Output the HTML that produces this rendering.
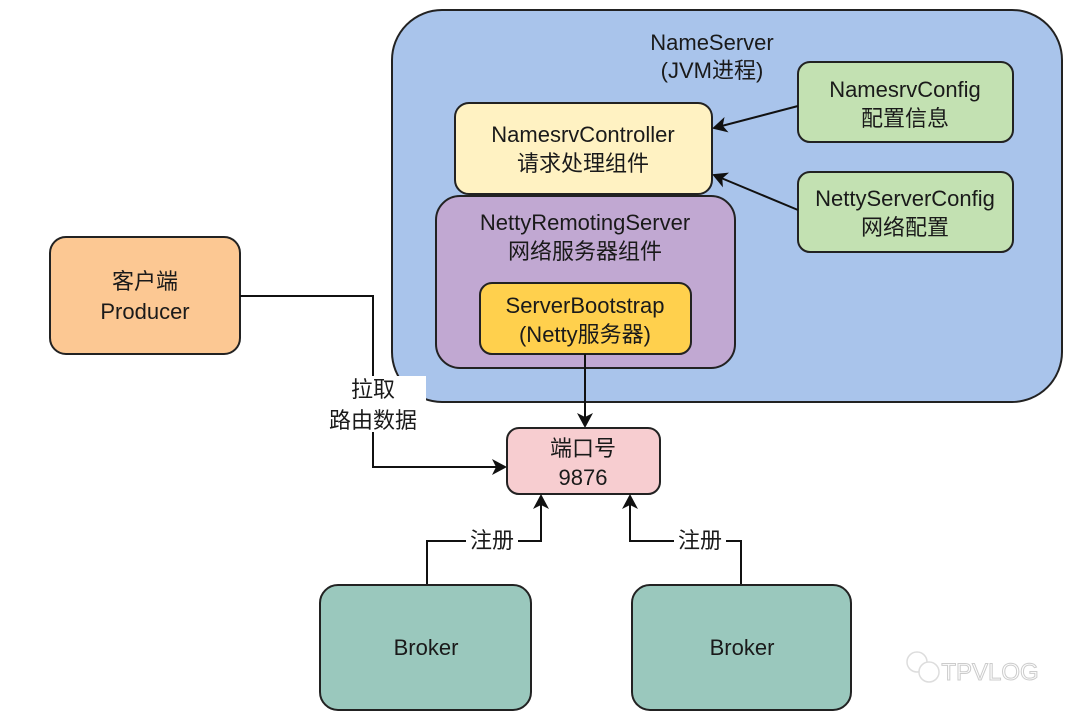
<!DOCTYPE html>
<html><head><meta charset="utf-8"><style>
html,body{margin:0;padding:0;background:#fff;}
svg{display:block}
text{font-family:"Liberation Sans","Noto Sans CJK SC",sans-serif;font-size:22px;fill:#1a1a1a;text-anchor:middle}
</style></head><body>
<svg width="1080" height="715" viewBox="0 0 1080 715" xmlns="http://www.w3.org/2000/svg">
<defs><marker id="a" markerWidth="16" markerHeight="16" refX="13" refY="8" orient="auto" markerUnits="userSpaceOnUse"><path d="M0,0 L15,8 L0,16 L4,8 Z" fill="#111"/></marker></defs>
<rect x="392" y="10" width="670" height="392" rx="50" fill="#a9c4eb" stroke="#222" stroke-width="2"/>
<text x="712" y="50">NameServer</text><text x="712" y="78">(JVM进程)</text>
<rect x="455" y="103" width="257" height="91" rx="14" fill="#fff2c2" stroke="#222" stroke-width="2"/>
<text x="583" y="142">NamesrvController</text><text x="583" y="171">请求处理组件</text>
<rect x="436" y="196" width="299" height="172" rx="24" fill="#c1a8d2" stroke="#222" stroke-width="2"/>
<text x="585" y="230">NettyRemotingServer</text><text x="585" y="259">网络服务器组件</text>
<rect x="480" y="283" width="211" height="71" rx="12" fill="#ffd04d" stroke="#222" stroke-width="2"/>
<text x="585" y="313">ServerBootstrap</text><text x="585" y="342">(Netty服务器)</text>
<rect x="798" y="62" width="215" height="80" rx="12" fill="#c3e1b2" stroke="#222" stroke-width="2"/>
<text x="905" y="97">NamesrvConfig</text><text x="905" y="126">配置信息</text>
<rect x="798" y="172" width="215" height="80" rx="12" fill="#c3e1b2" stroke="#222" stroke-width="2"/>
<text x="905" y="206">NettyServerConfig</text><text x="905" y="235">网络配置</text>
<line x1="798" y1="106" x2="714" y2="128" stroke="#111" stroke-width="2" marker-end="url(#a)"/>
<line x1="798" y1="210" x2="714" y2="175" stroke="#111" stroke-width="2" marker-end="url(#a)"/>
<rect x="50" y="237" width="190" height="117" rx="16" fill="#fcc893" stroke="#222" stroke-width="2"/>
<text x="145" y="289">客户端</text><text x="145" y="319">Producer</text>
<polyline points="240,296 373,296 373,467 505,467" fill="none" stroke="#111" stroke-width="2" marker-end="url(#a)"/>
<rect x="322" y="376" width="104" height="56" fill="#fff"/>
<text x="373" y="397">拉取</text><text x="373" y="428">路由数据</text>
<line x1="585" y1="354" x2="585" y2="426" stroke="#111" stroke-width="2" marker-end="url(#a)"/>
<rect x="507" y="428" width="153" height="66" rx="12" fill="#f7cdd0" stroke="#222" stroke-width="2"/>
<text x="583" y="456">端口号</text><text x="583" y="485">9876</text>
<polyline points="427,585 427,541 541,541 541,496" fill="none" stroke="#111" stroke-width="2" marker-end="url(#a)"/>
<polyline points="741,585 741,541 630,541 630,496" fill="none" stroke="#111" stroke-width="2" marker-end="url(#a)"/>
<rect x="466" y="526" width="52" height="28" fill="#fff"/><text x="492" y="548">注册</text>
<rect x="674" y="526" width="52" height="28" fill="#fff"/><text x="700" y="548">注册</text>
<rect x="320" y="585" width="211" height="125" rx="18" fill="#9ac8bd" stroke="#222" stroke-width="2"/>
<text x="426" y="655">Broker</text>
<rect x="632" y="585" width="219" height="125" rx="18" fill="#9ac8bd" stroke="#222" stroke-width="2"/>
<text x="742" y="655">Broker</text>
<text x="990" y="680" style="font-size:24px;fill:#fff;stroke:#ccc;stroke-width:1">TPVLOG</text>
<circle cx="917" cy="662" r="10" fill="none" stroke="#ddd" stroke-width="1.5"/>
<circle cx="929" cy="672" r="10" fill="#fff" stroke="#ddd" stroke-width="1.5"/>
</svg>
</body></html>
